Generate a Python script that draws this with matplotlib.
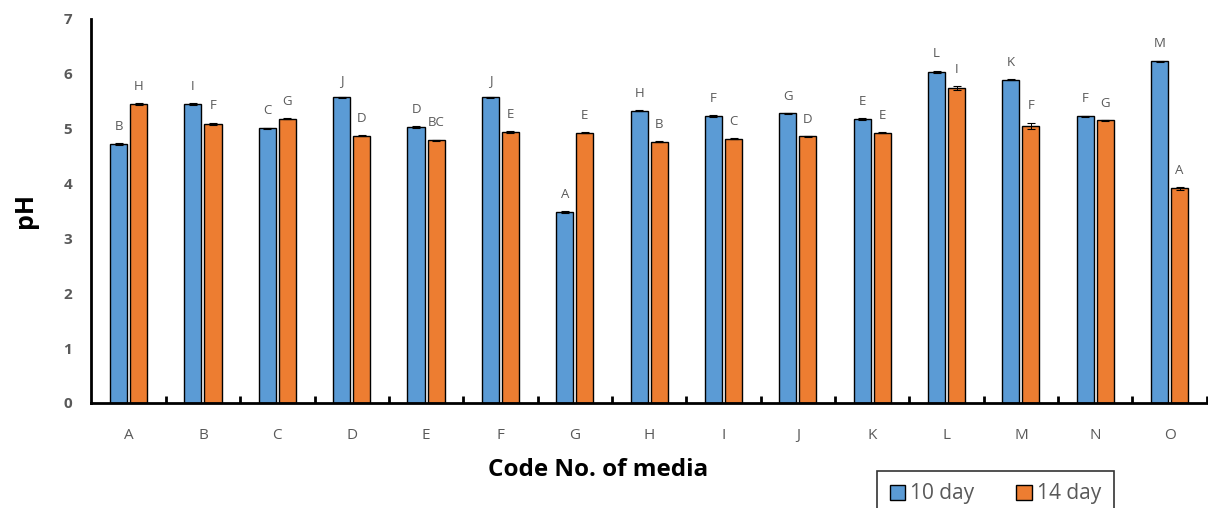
import numpy as np
import matplotlib.pyplot as plt

plt.rcParams['font.family'] = ['Open Sans', 'DejaVu Sans']

media = ["A", "B", "C", "D", "E", "F", "G", "H", "I", "J", "K", "L", "M", "N", "O"]
ph_10 = [4.72, 5.45, 5.01, 5.57, 5.03, 5.57, 3.48, 5.33, 5.23, 5.28, 5.18, 6.04, 5.89, 5.23, 6.23]
ph_14 = [5.45, 5.09, 5.18, 4.87, 4.79, 4.94, 4.93, 4.76, 4.82, 4.86, 4.93, 5.74, 5.05, 5.15, 3.91]
err_10 = [0.02, 0.02, 0.01, 0.01, 0.01, 0.01, 0.02, 0.01, 0.02, 0.01, 0.02, 0.02, 0.01, 0.01, 0.01]
err_14 = [0.01, 0.02, 0.01, 0.01, 0.01, 0.02, 0.01, 0.01, 0.01, 0.01, 0.01, 0.04, 0.06, 0.01, 0.02]
sig_10 = ["B", "I", "C", "J", "D", "J", "A", "H", "F", "G", "E", "L", "K", "F", "M"]
sig_14 = ["H", "F", "G", "D", "BC", "E", "E", "B", "C", "D", "E", "I", "F", "G", "A"]

blue = "#5B9BD5"
orange = "#ED7D31"
grey = "#595959"

fig = plt.figure(figsize=(12.08, 5.08), dpi=100)
ax = fig.add_axes([0.0757, 0.2067, 0.9233, 0.756])

x = np.arange(len(media))
w = 0.23
off = 0.135
ax.bar(x - off, ph_10, w, yerr=err_10, color=blue, edgecolor="black", linewidth=1.0,
       error_kw=dict(ecolor="black", elinewidth=0.7, capsize=3, capthick=0.8), label="10 day")
ax.bar(x + off, ph_14, w, yerr=err_14, color=orange, edgecolor="black", linewidth=1.0,
       error_kw=dict(ecolor="black", elinewidth=0.7, capsize=3, capthick=0.8), label="14 day")

for i in range(len(media)):
    ax.annotate(sig_10[i], (x[i] - off, ph_10[i] + err_10[i]), xytext=(0, 12),
                textcoords="offset points", ha="center", va="center", fontsize=9.5, color=grey)
    ax.annotate(sig_14[i], (x[i] + off, ph_14[i] + err_14[i]), xytext=(0, 12),
                textcoords="offset points", ha="center", va="center", fontsize=9.5, color=grey)

ax.set_xlim(-0.5, len(media) - 0.5)
ax.set_ylim(0, 7)
ax.set_yticks(range(8))
ax.set_yticklabels([str(v) for v in range(8)], fontsize=11, fontweight="bold", color=grey)
ax.set_xticks(x)
ax.set_xticklabels(media, fontsize=11, color=grey)
ax.set_xticks(np.arange(0.5, len(media), 1), minor=True)
ax.tick_params(axis="x", which="major", length=0, pad=18)
ax.tick_params(axis="x", which="minor", direction="in", length=5, width=2, color="black")
ax.tick_params(axis="y", length=0, pad=14)

for s in ["top", "right"]:
    ax.spines[s].set_visible(False)
ax.spines["left"].set_linewidth(2)
ax.spines["bottom"].set_linewidth(2)

ax.set_xlabel("Code No. of media", fontsize=17.5, fontweight="bold", va="center")
ax.xaxis.set_label_coords(0.454, -0.174)
ax.set_ylabel("pH", fontsize=18, fontweight="bold", labelpad=18)

leg = fig.legend(loc="upper left", bbox_to_anchor=(0.726, 0.073), ncol=2, fontsize=15,
                 frameon=True, fancybox=False, handlelength=0.75, handleheight=0.75,
                 handletextpad=0.25, columnspacing=2.0, borderpad=0.6, borderaxespad=0,
                 labelspacing=0.2)
leg.get_frame().set_edgecolor("black")
leg.get_frame().set_linewidth(1.2)
for t in leg.get_texts():
    t.set_color(grey)

plt.savefig("out.png", dpi=100)
